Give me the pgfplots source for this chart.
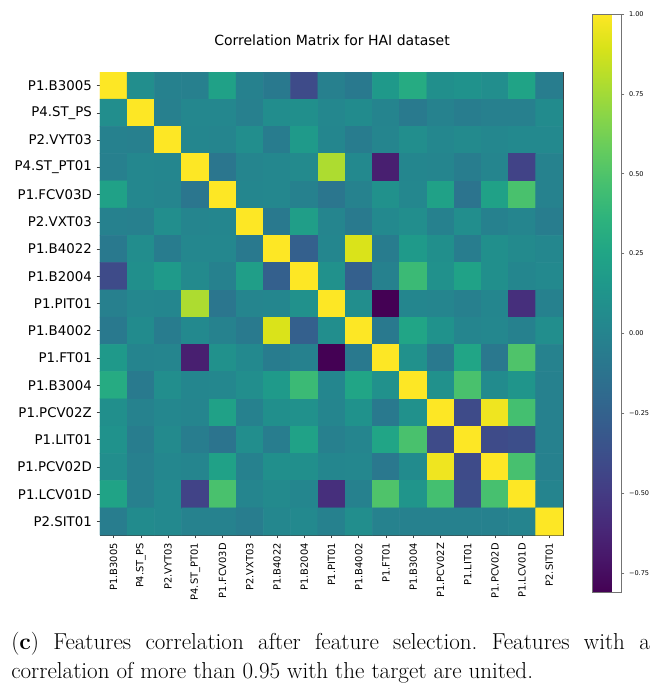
\documentclass[border=0pt]{standalone}
\usepackage{pgfplots}
\pgfplotsset{compat=1.18}
\usepackage{fontspec}
\newfontfamily\dejavu{DejaVu Sans}
\frenchspacing
\begin{document}
\begin{tikzpicture}
\path[use as bounding box] (-75pt,54pt) rectangle (414.75pt,-461.25pt);
\begin{axis}[
  at={(0pt,0pt)}, anchor=north west,
  scale only axis, width=347.25pt, height=347.25pt,
  xmin=-0.5, xmax=16.5, ymin=-0.5, ymax=16.5,
  y dir=reverse, enlargelimits=false,
  axis line style={draw=black!75, line width=0.5pt},
  tick align=outside, major tick length=2.6pt,
  tick style={draw=black!75, line width=0.4pt},
  xtick={0,...,16}, ytick={0,...,16},
  xtick pos=bottom, ytick pos=left,
  xticklabels={P1.B3005,P4.ST\_PS,P2.VYT03,P4.ST\_PT01,P1.FCV03D,P2.VXT03,P1.B4022,P1.B2004,P1.PIT01,P1.B4002,P1.FT01,P1.B3004,P1.PCV02Z,P1.LIT01,P1.PCV02D,P1.LCV01D,P2.SIT01},
  yticklabels={P1.B3005,P4.ST\_PS,P2.VYT03,P4.ST\_PT01,P1.FCV03D,P2.VXT03,P1.B4022,P1.B2004,P1.PIT01,P1.B4002,P1.FT01,P1.B3004,P1.PCV02Z,P1.LIT01,P1.PCV02D,P1.LCV01D,P2.SIT01},
  xticklabel style={font=\dejavu\fontsize{7.4}{8}\selectfont, rotate=90, anchor=east},
  yticklabel style={font=\dejavu\fontsize{10}{12}\selectfont},
  colormap/viridis,
  point meta min=-0.81, point meta max=1.0,
  colorbar,
  colorbar style={
    xshift=13.5pt, yshift=43.5pt,
    scale only axis, width=21.75pt, height=433.5pt,
    axis line style={draw=black!55, line width=0.4pt},
    ytick={-0.75,-0.5,-0.25,0,0.25,0.5,0.75,1},
    yticklabels={−0.75,−0.50,−0.25,0.00,0.25,0.50,0.75,1.00},
    yticklabel style={font=\dejavu\fontsize{4.9}{6}\selectfont},
    ytick pos=right, tick align=outside, major tick length=2pt,
    ytick style={draw=black!55, line width=0.3pt},
  },
]
\addplot[matrix plot*, mesh/cols=17, point meta=explicit] coordinates {
(0,0)[1.00] (1,0)[0.08] (2,0)[-0.02] (3,0)[-0.03] (4,0)[0.22] (5,0)[-0.02] (6,0)[-0.08] (7,0)[-0.40] (8,0)[-0.03] (9,0)[-0.08] (10,0)[0.16] (11,0)[0.30] (12,0)[0.09] (13,0)[0.11] (14,0)[0.08] (15,0)[0.24] (16,0)[-0.05]
(0,1)[0.08] (1,1)[1.00] (2,1)[-0.03] (3,1)[0.03] (4,1)[0.03] (5,1)[-0.03] (6,1)[0.07] (7,1)[0.09] (8,1)[0.03] (9,1)[0.06] (10,1)[0.00] (11,1)[-0.07] (12,1)[-0.01] (13,1)[-0.05] (14,1)[-0.03] (15,1)[-0.03] (16,1)[0.06]
(0,2)[-0.02] (1,2)[-0.03] (2,2)[1.00] (3,2)[0.02] (4,2)[0.01] (5,2)[0.08] (6,2)[-0.06] (7,2)[0.17] (8,2)[0.02] (9,2)[-0.06] (10,2)[0.01] (11,2)[0.08] (12,2)[0.03] (13,2)[0.05] (14,2)[0.03] (15,2)[0.04] (16,2)[0.04]
(0,3)[-0.03] (1,3)[0.03] (2,3)[0.02] (3,3)[1.00] (4,3)[-0.10] (5,3)[0.01] (6,3)[0.03] (7,3)[0.05] (8,3)[0.78] (9,3)[0.04] (10,3)[-0.66] (11,3)[0.02] (12,3)[0.01] (13,3)[-0.05] (14,3)[0.01] (15,3)[-0.45] (16,3)[-0.01]
(0,4)[0.22] (1,4)[0.03] (2,4)[0.01] (3,4)[-0.10] (4,4)[1.00] (5,4)[0.02] (6,4)[0.03] (7,4)[-0.02] (8,4)[-0.10] (9,4)[-0.01] (10,4)[0.10] (11,4)[0.03] (12,4)[0.22] (13,4)[-0.12] (14,4)[0.22] (15,4)[0.48] (16,4)[-0.01]
(0,5)[-0.02] (1,5)[-0.03] (2,5)[0.08] (3,5)[0.01] (4,5)[0.02] (5,5)[1.00] (6,5)[-0.08] (7,5)[0.20] (8,5)[0.01] (9,5)[-0.07] (10,5)[0.04] (11,5)[0.08] (12,5)[-0.02] (13,5)[0.08] (14,5)[-0.02] (15,5)[0.01] (16,5)[-0.05]
(0,6)[-0.08] (1,6)[0.07] (2,6)[-0.06] (3,6)[0.03] (4,6)[0.03] (5,6)[-0.08] (6,6)[1.00] (7,6)[-0.26] (8,6)[0.02] (9,6)[0.90] (10,6)[-0.06] (11,6)[0.17] (12,6)[0.09] (13,6)[-0.05] (14,6)[0.09] (15,6)[0.05] (16,6)[0.03]
(0,7)[-0.40] (1,7)[0.09] (2,7)[0.17] (3,7)[0.05] (4,7)[-0.02] (5,7)[0.20] (6,7)[-0.26] (7,7)[1.00] (8,7)[0.10] (9,7)[-0.26] (10,7)[-0.02] (11,7)[0.42] (12,7)[0.10] (13,7)[0.23] (14,7)[0.09] (15,7)[0.02] (16,7)[0.04]
(0,8)[-0.03] (1,8)[0.03] (2,8)[0.02] (3,8)[0.78] (4,8)[-0.10] (5,8)[0.01] (6,8)[0.02] (7,8)[0.10] (8,8)[1.00] (9,8)[0.08] (10,8)[-0.81] (11,8)[0.02] (12,8)[0.01] (13,8)[-0.03] (14,8)[0.02] (15,8)[-0.57] (16,8)[-0.02]
(0,9)[-0.08] (1,9)[0.06] (2,9)[-0.06] (3,9)[0.04] (4,9)[-0.01] (5,9)[-0.07] (6,9)[0.90] (7,9)[-0.26] (8,9)[0.08] (9,9)[1.00] (10,9)[-0.08] (11,9)[0.25] (12,9)[0.11] (13,9)[0.01] (14,9)[0.03] (15,9)[-0.02] (16,9)[0.08]
(0,10)[0.16] (1,10)[0.00] (2,10)[0.01] (3,10)[-0.66] (4,10)[0.10] (5,10)[0.04] (6,10)[-0.06] (7,10)[-0.02] (8,10)[-0.81] (9,10)[-0.08] (10,10)[1.00] (11,10)[0.10] (12,10)[-0.08] (13,10)[0.25] (14,10)[-0.09] (15,10)[0.50] (16,10)[-0.01]
(0,11)[0.30] (1,11)[-0.07] (2,11)[0.08] (3,11)[0.02] (4,11)[0.03] (5,11)[0.08] (6,11)[0.17] (7,11)[0.42] (8,11)[0.02] (9,11)[0.25] (10,11)[0.10] (11,11)[1.00] (12,11)[0.10] (13,11)[0.48] (14,11)[0.06] (15,11)[0.13] (16,11)[-0.02]
(0,12)[0.09] (1,12)[-0.01] (2,12)[0.03] (3,12)[0.01] (4,12)[0.22] (5,12)[-0.02] (6,12)[0.09] (7,12)[0.10] (8,12)[0.01] (9,12)[0.11] (10,12)[-0.08] (11,12)[0.10] (12,12)[1.00] (13,12)[-0.40] (14,12)[0.96] (15,12)[0.46] (16,12)[-0.02]
(0,13)[0.11] (1,13)[-0.05] (2,13)[0.05] (3,13)[-0.05] (4,13)[-0.12] (5,13)[0.08] (6,13)[-0.05] (7,13)[0.23] (8,13)[-0.03] (9,13)[0.01] (10,13)[0.25] (11,13)[0.48] (12,13)[-0.40] (13,13)[1.00] (14,13)[-0.40] (15,13)[-0.38] (16,13)[-0.02]
(0,14)[0.08] (1,14)[-0.03] (2,14)[0.03] (3,14)[0.01] (4,14)[0.22] (5,14)[-0.02] (6,14)[0.09] (7,14)[0.09] (8,14)[0.02] (9,14)[0.03] (10,14)[-0.09] (11,14)[0.06] (12,14)[0.96] (13,14)[-0.40] (14,14)[1.00] (15,14)[0.47] (16,14)[-0.02]
(0,15)[0.24] (1,15)[-0.03] (2,15)[0.04] (3,15)[-0.45] (4,15)[0.48] (5,15)[0.01] (6,15)[0.05] (7,15)[0.02] (8,15)[-0.57] (9,15)[-0.02] (10,15)[0.50] (11,15)[0.13] (12,15)[0.46] (13,15)[-0.38] (14,15)[0.47] (15,15)[1.00] (16,15)[0.00]
(0,16)[-0.05] (1,16)[0.06] (2,16)[0.04] (3,16)[-0.01] (4,16)[-0.01] (5,16)[-0.05] (6,16)[0.03] (7,16)[0.04] (8,16)[-0.02] (9,16)[0.08] (10,16)[-0.01] (11,16)[-0.02] (12,16)[-0.02] (13,16)[-0.02] (14,16)[-0.02] (15,16)[0.00] (16,16)[1.00]
};
\end{axis}
\node[anchor=center, font=\dejavu\fontsize{10.5}{12}\selectfont] at (174pt,24pt) {Correlation Matrix for HAI dataset};
\node[anchor=base west, inner sep=0pt, font=\fontsize{17.3}{21.75}\selectfont] at (-66.75pt,-432.75pt) {\makebox[479pt][s]{(\textbf{c}) Features correlation after feature selection. Features with a}};
\node[anchor=base west, inner sep=0pt, font=\fontsize{17.3}{21.75}\selectfont] at (-66.75pt,-454.5pt) {correlation of more than 0.95 with the target are united.};
\end{tikzpicture}
\end{document}
